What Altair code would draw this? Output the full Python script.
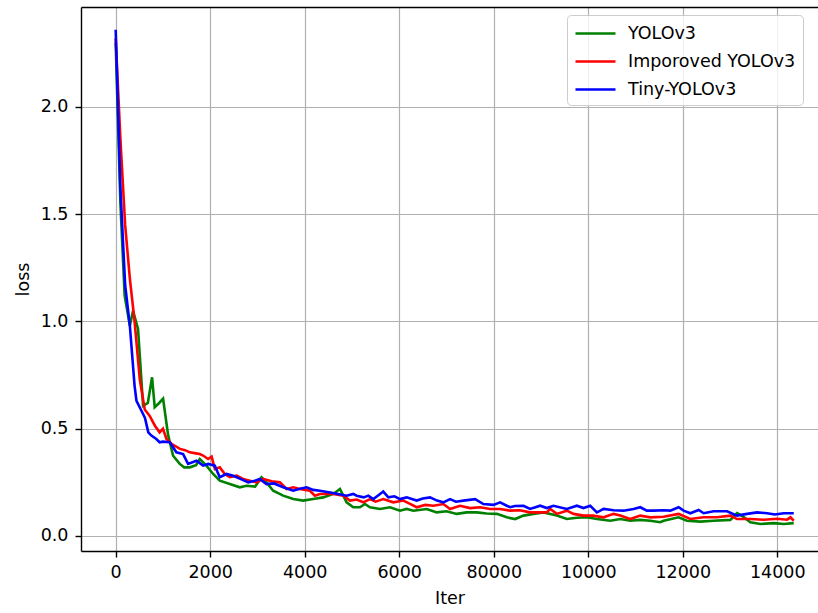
import altair as alt
import pandas as pd

series_names = ["YOLOv3", "Imporoved YOLOv3", "Tiny-YOLOv3"]
series_colors = ["#008000", "#ff0000", "#0000ff"]

x_tick_values = [0, 2000, 4000, 6000, 8000, 10000, 12000, 14000]
x_tick_labels = ["0", "2000", "4000", "6000", "80000", "10000", "12000", "14000"]
y_tick_values = [0.0, 0.5, 1.0, 1.5, 2.0]

# YOLOv3 (green)
green_iter = [0, 100, 190, 300, 367, 473, 580, 680, 770, 826, 920, 1003, 1110, 1215, 1356, 1450,
              1568, 1700, 1780, 1921, 2062, 2203, 2415, 2627, 2768, 2950, 3086, 3192, 3333, 3545,
              3757, 3969, 4180, 4392, 4605, 4746, 4887, 5028, 5169, 5275, 5381, 5593, 5805, 6017,
              6158, 6300, 6582, 6794, 7000, 7218, 7430, 7642, 7850, 8065, 8277, 8453, 8630, 8841,
              9053, 9336, 9548, 9760, 9971, 10184, 10466, 10678, 10890, 11100, 11314, 11525, 11596,
              11913, 12090, 12373, 12655, 13008, 13150, 13250, 13432, 13644, 13926, 14138, 14350]
green_loss = [2.30, 1.55, 1.12, 0.98, 1.05, 0.965, 0.607, 0.62, 0.74, 0.60, 0.62, 0.64, 0.47, 0.374,
              0.336, 0.32, 0.32, 0.33, 0.359, 0.328, 0.289, 0.258, 0.242, 0.227, 0.234, 0.23, 0.274,
              0.25, 0.211, 0.188, 0.172, 0.165, 0.172, 0.18, 0.196, 0.219, 0.157, 0.134, 0.134,
              0.149, 0.134, 0.126, 0.134, 0.118, 0.126, 0.118, 0.126, 0.11, 0.115, 0.103, 0.11,
              0.11, 0.105, 0.103, 0.087, 0.079, 0.095, 0.103, 0.11, 0.095, 0.079, 0.085, 0.087,
              0.079, 0.071, 0.079, 0.071, 0.075, 0.071, 0.064, 0.071, 0.087, 0.071, 0.067, 0.071,
              0.075, 0.107, 0.095, 0.064, 0.056, 0.06, 0.056, 0.06]

# Imporoved YOLOv3 (red)
red_iter = [0, 100, 200, 300, 400, 510, 615, 720, 830, 930, 1000, 1075, 1180, 1360, 1470, 1568,
            1700, 1780, 1850, 1955, 2030, 2100, 2203, 2310, 2415, 2557, 2697, 2839, 2980, 3121,
            3300, 3475, 3616, 3757, 3898, 4110, 4216, 4322, 4605, 4816, 4958, 5100, 5240, 5381,
            5500, 5663, 5875, 6087, 6230, 6370, 6550, 6723, 6935, 7076, 7288, 7500, 7712, 7924,
            8136, 8347, 8550, 8771, 9124, 9195, 9336, 9548, 9689, 9900, 10100, 10325, 10537,
            10678, 10890, 11102, 11314, 11596, 11913, 12161, 12443, 12726, 13008, 13150, 13432,
            13714, 14000, 14209, 14280, 14350]
red_loss = [2.32, 1.85, 1.45, 1.20, 1.0, 0.73, 0.59, 0.56, 0.514, 0.483, 0.50, 0.452, 0.43, 0.406,
            0.40, 0.39, 0.385, 0.382, 0.375, 0.359, 0.37, 0.312, 0.32, 0.289, 0.274, 0.281, 0.266,
            0.258, 0.25, 0.266, 0.255, 0.25, 0.219, 0.227, 0.219, 0.211, 0.188, 0.196, 0.196,
            0.188, 0.165, 0.17, 0.157, 0.172, 0.16, 0.172, 0.157, 0.165, 0.15, 0.134, 0.145,
            0.141, 0.149, 0.126, 0.141, 0.13, 0.134, 0.126, 0.126, 0.118, 0.12, 0.11, 0.11,
            0.126, 0.103, 0.118, 0.103, 0.095, 0.095, 0.087, 0.103, 0.095, 0.079, 0.095, 0.087,
            0.09, 0.103, 0.079, 0.087, 0.087, 0.095, 0.079, 0.079, 0.076, 0.08, 0.076, 0.087, 0.071]

# Tiny-YOLOv3 (blue)
blue_iter = [0, 100, 200, 300, 400, 440, 545, 620, 690, 755, 860, 930, 1000, 1144, 1285, 1427,
             1532, 1709, 1850, 1956, 2097, 2203, 2345, 2486, 2650, 2804, 2945, 3050, 3192, 3350,
             3545, 3757, 3900, 4040, 4180, 4322, 4600, 4887, 5028, 5100, 5250, 5346, 5452, 5560,
             5663, 5770, 5900, 6017, 6158, 6370, 6500, 6653, 6800, 6935, 7076, 7200, 7358, 7606,
             7782, 7994, 8136, 8277, 8347, 8450, 8630, 8771, 8983, 9124, 9265, 9548, 9760, 9900,
             10042, 10184, 10325, 10537, 10749, 10960, 11102, 11240, 11384, 11600, 11737, 11913,
             12019, 12161, 12337, 12443, 12655, 12938, 13150, 13362, 13574, 13786, 13950, 14138,
             14350]
blue_loss = [2.36, 1.62, 1.17, 0.98, 0.70, 0.63, 0.584, 0.55, 0.483, 0.468, 0.452, 0.437, 0.44,
             0.437, 0.39, 0.382, 0.336, 0.351, 0.328, 0.336, 0.328, 0.274, 0.289, 0.281, 0.265,
             0.25, 0.258, 0.266, 0.242, 0.245, 0.227, 0.211, 0.22, 0.227, 0.215, 0.211, 0.2,
             0.188, 0.196, 0.188, 0.18, 0.188, 0.172, 0.19, 0.207, 0.18, 0.185, 0.172, 0.18,
             0.165, 0.175, 0.18, 0.165, 0.157, 0.172, 0.16, 0.165, 0.172, 0.149, 0.145, 0.157,
             0.141, 0.134, 0.14, 0.141, 0.126, 0.141, 0.13, 0.141, 0.126, 0.141, 0.13, 0.141,
             0.11, 0.126, 0.12, 0.118, 0.126, 0.134, 0.118, 0.118, 0.12, 0.118, 0.134, 0.118,
             0.106, 0.121, 0.106, 0.115, 0.115, 0.095, 0.103, 0.11, 0.106, 0.1, 0.106, 0.106]

frames = []
for name, its, ls in zip(series_names, [green_iter, red_iter, blue_iter],
                         [green_loss, red_loss, blue_loss]):
    frames.append(pd.DataFrame({"iter": its, "loss": ls, "series": name}))
df = pd.concat(frames, ignore_index=True)

FONT = "DejaVu Sans"
FS = 17.5

label_expr = " : ".join(
    [f"datum.value == {v} ? '{l}'" for v, l in zip(x_tick_values, x_tick_labels)]
) + " : datum.label"

x_scale = alt.Scale(domain=[-734, 14863], nice=False, zero=False)
y_scale = alt.Scale(domain=[-0.07, 2.466], nice=False, zero=False)

color = alt.Color(
    "series:N",
    scale=alt.Scale(domain=series_names, range=series_colors),
    sort=series_names,
    legend=alt.Legend(
        orient="none", legendX=486, legendY=8, title=None,
        symbolType="M-1,0H3", symbolSize=400, symbolStrokeWidth=2.6,
        labelFont=FONT, labelFontSize=FS, labelColor="black", labelOffset=31, labelLimit=400,
        strokeColor="#cccccc", fillColor="rgba(255,255,255,0.8)", cornerRadius=4,
        padding=7, rowPadding=8,
    ),
)

xax = alt.Axis(values=x_tick_values, format="d", labelExpr=label_expr, title="Iter",
               grid=True, tickSize=6, labelPadding=6, titlePadding=9)
yax = alt.Axis(values=y_tick_values, format=".1f", title="loss", grid=True,
               tickSize=6, labelPadding=7, titlePadding=8)

layers = []
for name in series_names:
    layers.append(
        alt.Chart(df).transform_filter(alt.datum.series == name)
        .mark_line(strokeWidth=2.6, clip=True)
        .encode(
            x=alt.X("iter:Q", scale=x_scale, axis=xax),
            y=alt.Y("loss:Q", scale=y_scale, axis=yax),
            color=color,
        )
    )
lines = alt.layer(*layers)

top_frame = alt.Chart(df).mark_line(opacity=0).encode(
    x=alt.X("iter:Q", scale=x_scale,
            axis=alt.Axis(orient="top", labels=False, ticks=False, grid=False, domain=True,
                          title=None)),
    y=alt.Y("loss:Q", scale=y_scale, axis=yax),
)

chart = alt.layer(lines, top_frame).resolve_axis(x="independent").properties(
    width=737, height=544,
    background="white",
    autosize=alt.AutoSizeParams(type="none"),
    padding={"left": 81, "top": 7, "right": 0, "bottom": 62},
).configure_view(strokeOpacity=0).configure_axis(
    labelFont=FONT, titleFont=FONT, labelFontSize=FS, titleFontSize=FS,
    titleFontWeight="normal", labelColor="black", titleColor="black",
    tickColor="black", domainColor="black", gridColor="#b0b0b0", gridWidth=1.2,
    domainWidth=1.4, tickWidth=1.4,
)

chart.save("out.html", embed_options={"renderer": "svg", "actions": False})
